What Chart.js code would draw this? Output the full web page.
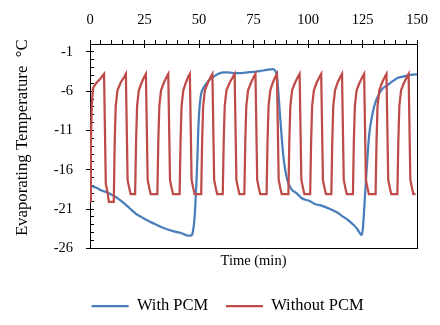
<!DOCTYPE html>
<html>
<head>
<meta charset="utf-8">
<script src="https://cdn.jsdelivr.net/npm/chart.js@4.4.1/dist/chart.umd.min.js"></script>
<style>
html,body{margin:0;padding:0;background:#fff;}
#wrap{width:440px;height:325px;position:relative;}
</style>
</head>
<body>
<div id="wrap"><canvas id="c"></canvas></div>
<script>
// ---- data ----
const seriesNames = ['With PCM', 'Without PCM'];

const withPcmTime = [0,1,3,5,8,10,12,14.4,17,19,21,23.5,26,28.1,30.5,32.7,35,37.3,39.5,41.1,43,45,46.3,47.2,48.0,48.8,49.2,49.6,50.0,50.5,51.1,52.0,54.3,56,58.1,61.2,63,65.7,68.8,71,74.9,78,81,83.8,85,85.9,87.2,88.7,90.5,92.5,94.8,97,100.9,103.5,105.5,107.5,110.1,113.8,116.2,118.3,120.8,122.5,123.6,124.6,125.2,126.3,127.5,128.3,129.1,130.6,132.9,134.5,136.7,139,141.3,143.5,145.9,148,150];
const withPcmTemp = [-17.9,-18.1,-18.3,-18.6,-18.9,-19.2,-19.5,-20.0,-20.6,-21.1,-21.6,-22.0,-22.4,-22.7,-23.0,-23.3,-23.55,-23.75,-23.9,-24.0,-24.2,-24.4,-24.4,-23.9,-22.0,-17.7,-15.0,-11.5,-9.0,-7.3,-6.2,-5.6,-4.7,-4.3,-3.9,-3.6,-3.6,-3.7,-3.7,-3.65,-3.55,-3.45,-3.3,-3.2,-3.4,-4.5,-9.2,-14.3,-17.3,-18.5,-19.0,-19.6,-20.0,-20.4,-20.5,-20.7,-21.0,-21.5,-22.0,-22.4,-23.0,-23.5,-24.0,-24.3,-23.4,-18.6,-13.5,-11.0,-9.6,-7.7,-6.2,-5.6,-5.2,-4.7,-4.3,-4.15,-4.0,-3.9,-3.85];

const withoutPcmTime = [
  0,0.4,0.8,1.4,2.8,4.5,5.6,6.45,7.25,8.05,8.65,
  10.9,11.35,11.8,12.6,14.1,15.65,16.45,17.25,18.05,18.65,
  20.7,21.15,21.6,22.4,23.7,24.85,25.65,26.45,27.25,27.85,
  30.9,31.35,31.8,32.6,33.9,35.1,35.9,36.7,37.5,38.1,
  41.1,41.55,42.0,42.8,44.0,45.0,45.8,46.6,47.4,48.0,
  51.0,51.45,51.9,52.7,54.1,55.35,56.15,56.95,57.75,58.35,
  60.9,61.35,61.8,62.6,64.1,65.55,66.35,67.15,67.95,68.55,
  70.8,71.25,71.7,72.5,73.9,75.1,75.9,76.7,77.5,78.1,
  81.0,81.45,81.9,82.7,83.9,84.95,85.75,86.55,87.35,87.95,
  91.0,91.45,91.9,92.7,94.1,95.35,96.15,96.95,97.75,98.35,
  101.0,101.45,101.9,102.7,104.0,105.25,106.05,106.85,107.65,108.25,
  110.7,111.15,111.6,112.4,113.6,114.8,115.6,116.4,117.2,117.8,
  120.6,121.05,121.5,122.3,123.7,124.95,125.75,126.55,127.35,127.95,
  131.0,131.45,131.9,132.7,134.0,135.2,136.0,136.8,137.6,138.2,
  141.0,141.45,141.9,142.7,144.1,145.35,146.15,146.95,147.75,148.35,149.3
];
const withoutPcmTemp = [
  -20.0,-13.0,-7.8,-5.6,-5.0,-4.5,-4.1,-3.8,-17.8,-18.9,-20.1,
  -20.1,-12.2,-7.9,-5.9,-4.9,-4.2,-3.8,-17.3,-18.4,-19.1,
  -19.1,-12.2,-7.9,-5.9,-4.9,-4.2,-3.8,-17.3,-18.4,-19.1,
  -19.1,-12.2,-7.9,-5.9,-4.9,-4.2,-3.8,-17.3,-18.4,-19.1,
  -19.1,-12.2,-7.9,-5.9,-4.9,-4.2,-3.8,-17.3,-18.4,-19.1,
  -19.1,-12.2,-7.9,-5.9,-4.9,-4.2,-3.8,-17.3,-18.4,-19.1,
  -19.1,-12.2,-7.9,-5.9,-4.9,-4.2,-3.8,-17.3,-18.4,-19.1,
  -19.1,-12.2,-7.9,-5.9,-4.9,-4.2,-3.8,-17.3,-18.4,-19.1,
  -19.1,-12.2,-7.9,-5.9,-4.9,-4.2,-3.8,-17.3,-18.4,-19.1,
  -19.1,-12.2,-7.9,-5.9,-4.9,-4.2,-3.8,-17.3,-18.4,-19.1,
  -19.1,-12.2,-7.9,-5.9,-4.9,-4.2,-3.8,-17.3,-18.4,-19.1,
  -19.1,-12.2,-7.9,-5.9,-4.9,-4.2,-3.8,-17.3,-18.4,-19.1,
  -19.1,-12.2,-7.9,-5.9,-4.9,-4.2,-3.8,-17.3,-18.4,-19.1,
  -19.1,-12.2,-7.9,-5.9,-4.9,-4.2,-3.8,-17.3,-18.4,-19.1,
  -19.1,-12.2,-7.9,-5.9,-4.9,-4.2,-3.8,-17.3,-18.4,-19.1,-19.1
];

const timeTickLabels = [0,25,50,75,100,125,150];
const timeMinorTicks = [0,5,10,15,20,25,30,35,40,45,50,55,60,65,70,75,80,85,90,95,100,105,110,115,120,125,130,135,140,145,150];
const tempTickLabels = [-26,-21,-16,-11,-6,-1];
const tempMinorTicks = [-26,-25,-24,-23,-22,-21,-20,-19,-18,-17,-16,-15,-14,-13,-12,-11,-10,-9,-8,-7,-6,-5,-4,-3,-2,-1,0];

const xTitle = 'Time (min)';
const yTitle = '    Evaporating Temperature  °C';

// ---- chart ----
const FAM = "'Liberation Serif','Times New Roman',serif";
const BLACK = '#000000';
const toPts = (xs, ys) => xs.map((t, i) => ({x: t, y: ys[i]}));
const setTicks = arr => (s => { s.ticks = arr.map(v => ({value: v})); });

new Chart(document.getElementById('c'), {
  type: 'line',
  data: {
    datasets: [
      {
        label: seriesNames[0],
        data: toPts(withPcmTime, withPcmTemp),
        borderColor: '#4A7EBB',
        backgroundColor: '#4A7EBB',
        borderWidth: 2.25,
        pointRadius: 0,
        cubicInterpolationMode: 'monotone',
        order: 1,
        xAxisID: 'x', yAxisID: 'y'
      },
      {
        label: seriesNames[1],
        data: toPts(withoutPcmTime, withoutPcmTemp),
        borderColor: '#BE4B48',
        backgroundColor: '#BE4B48',
        borderWidth: 2.25,
        pointRadius: 0,
        tension: 0,
        order: 0,
        xAxisID: 'x', yAxisID: 'y'
      }
    ]
  },
  options: {
    responsive: true,
    maintainAspectRatio: false,
    animation: false,
    devicePixelRatio: 1,
    layout: {padding: {top: 1, left: 15.25, right: 0, bottom: 0.75}},
    plugins: {
      tooltip: {enabled: false},
      legend: {
        position: 'bottom',
        labels: {
          usePointStyle: true,
          pointStyle: 'line',
          pointStyleWidth: 37,
          boxHeight: 16.5,
          padding: 17.75,
          color: BLACK,
          font: {family: FAM, size: 16.5},
          sort: (a, b) => a.datasetIndex - b.datasetIndex
        }
      }
    },
    scales: {
      x: {
        type: 'linear', position: 'top', min: 0, max: 150,
        afterBuildTicks: setTicks(timeMinorTicks),
        ticks: {
          autoSkip: false, maxRotation: 0, padding: 10.8, color: BLACK,
          font: {family: FAM, size: 14.5},
          callback: v => timeTickLabels.includes(v) ? String(v) : ''
        },
        grid: {drawOnChartArea: false, tickLength: 4, tickColor: BLACK, tickWidth: 1},
        border: {color: BLACK, width: 1}
      },
      xMajorIn: {
        type: 'linear', position: {y: 0}, min: 0, max: 150,
        afterBuildTicks: setTicks(timeTickLabels),
        ticks: {display: false},
        grid: {drawOnChartArea: false, tickLength: 4, tickColor: BLACK, tickWidth: 1},
        border: {display: false}
      },
      xBottom: {
        type: 'linear', position: 'bottom', min: 0, max: 150,
        ticks: {display: false},
        grid: {drawOnChartArea: false, drawTicks: false},
        border: {color: BLACK, width: 1},
        title: {display: true, text: xTitle, color: BLACK, font: {family: FAM, size: 14.5}, padding: {top: 3.7, bottom: 10.6}}
      },
      y: {
        type: 'linear', position: 'left', min: -26, max: 0,
        afterBuildTicks: setTicks(tempTickLabels),
        afterFit: s => { s.width = 74.75; },
        ticks: {padding: 13, color: BLACK, font: {family: FAM, size: 14.5}},
        grid: {drawOnChartArea: false, tickLength: 4, tickColor: BLACK, tickWidth: 1},
        border: {color: BLACK, width: 1},
        title: {display: true, text: yTitle, color: BLACK, font: {family: FAM, size: 16.75}, padding: {top: -2.8, bottom: 0}}
      },
      yMinorIn: {
        type: 'linear', position: {x: 0}, min: -26, max: 0,
        afterBuildTicks: setTicks(tempMinorTicks),
        ticks: {display: false},
        grid: {drawOnChartArea: false, tickLength: -4, tickColor: BLACK, tickWidth: 1},
        border: {display: false}
      },
      yRight: {
        type: 'linear', position: 'right', min: -26, max: 0,
        afterFit: s => { s.width = 23; },
        ticks: {display: false},
        grid: {drawOnChartArea: false, drawTicks: false},
        border: {color: BLACK, width: 1}
      }
    }
  }
});
</script>
</body>
</html>
